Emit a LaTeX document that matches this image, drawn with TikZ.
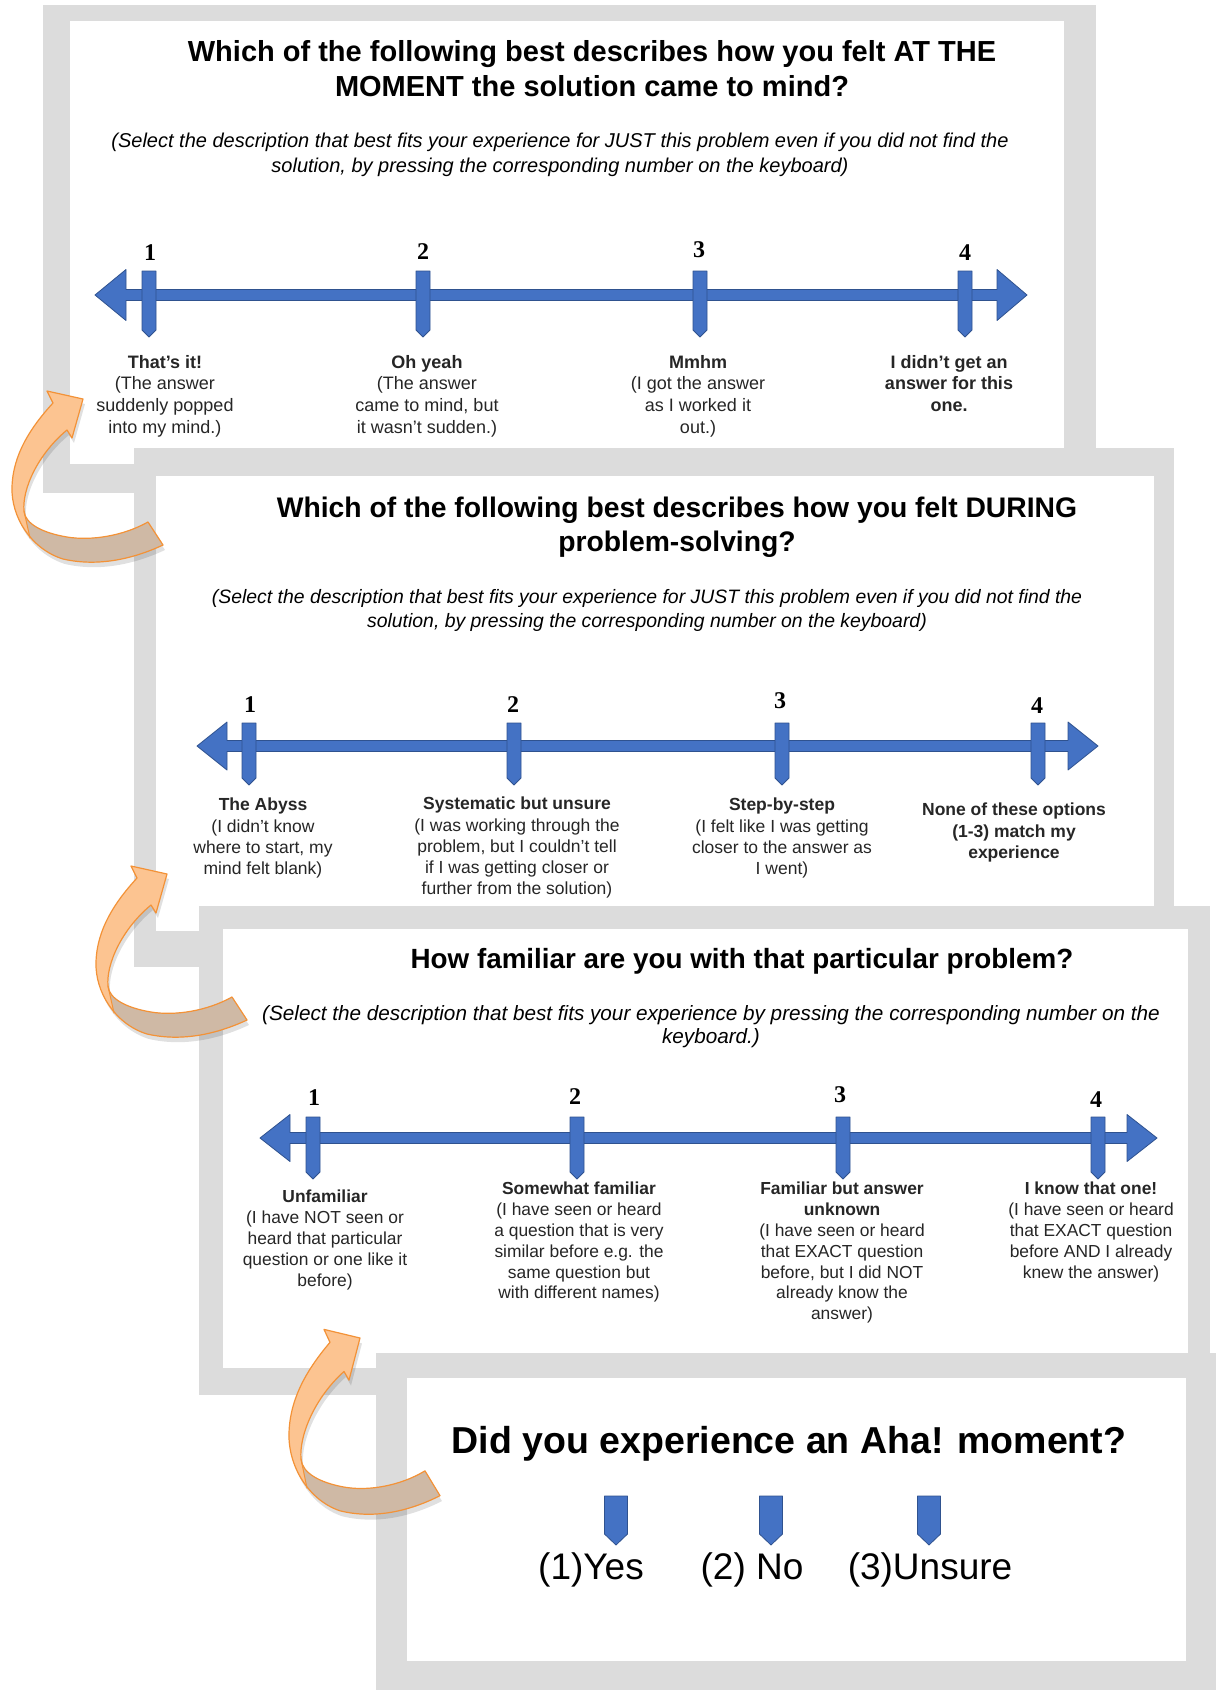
\documentclass[tikz,border=0pt]{standalone}
\usepackage{fontspec}
\setmainfont{Liberation Sans}
\newfontfamily\digitfont{Liberation Serif}
\usetikzlibrary{arrows.meta}

\definecolor{framegray}{HTML}{DCDCDC}
\definecolor{scaleblue}{HTML}{4472C4}
\definecolor{scaleedge}{HTML}{2F528F}
\definecolor{turnline}{HTML}{F39237}
\definecolor{turnfront}{HTML}{FCC491}
\definecolor{turnback}{HTML}{CFB9A5}

\newcommand\fsz[2]{\fontsize{#1}{#2}\selectfont}
% marker: x, half width, top, shoulder, tip
\newcommand\marker[5]{\draw[bar] (#1-#2,#3) -- (#1+#2,#3) -- (#1+#2,#4) -- (#1,#5) -- (#1-#2,#4) -- cycle;}
% scale bar: y, left tip, left back, right back, right tip, half head
\newcommand\scalebar[6]{\draw[bar] (#2,#1) -- (#3,#1-#6) -- (#3,#1-5.5) -- (#4,#1-5.5) -- (#4,#1-#6) -- (#5,#1) -- (#4,#1+#6) -- (#4,#1+5.5) -- (#3,#1+5.5) -- (#3,#1+#6) -- cycle;}
% curved arrow, tip at origin
\newcommand\turnpath{(0,0) -- (-36,-8) -- (-30,4) .. controls (-52,28) and (-70,55) .. (-71,88) .. controls (-72,118) and (-52,150) .. (-20,160) .. controls (15,168) and (50,160) .. (80,146) -- (65,123) .. controls (40,137) and (8,142) .. (-16,138) .. controls (-40,134) and (-58,125) .. (-59,112) .. controls (-61,90) and (-45,55) .. (-16,31) -- (-11,39) -- cycle}
\newcommand\turnarrow[2]{%
\begin{scope}[shift={(#1)},#2]
\begin{scope}[shift={(2,5)}]
\fill[black,opacity=0.12] \turnpath;
\end{scope}
\fill[turnfront] \turnpath;
\begin{scope}
\clip \turnpath;
\fill[turnback] (-59,112) -- (-53,139) -- (-53,200) -- (120,200) -- (120,100) -- (-40,100) -- cycle;
\end{scope}
\draw[turnline,line width=1.2pt,line join=round] \turnpath;
\draw[turnline,line width=1pt] (-59,112) -- (-53,139);
\end{scope}}

\begin{document}
\begin{tikzpicture}[x=1pt,y=-1pt,line cap=round,
  frame/.style={fill=framegray},
  sheet/.style={fill=white},
  bar/.style={fill=scaleblue,draw=scaleedge,line width=0.8pt,line join=round},
  qtitle/.style={align=center,anchor=north,inner sep=0pt},
  qnote/.style={align=center,anchor=north,inner sep=0pt},
  qlabel/.style={align=center,anchor=north,inner sep=0pt,text=black!85},
  qnum/.style={anchor=base,inner sep=0pt,font=\digitfont\fsz{24}{28}\bfseries},
  qopt/.style={anchor=base,inner sep=0pt,font=\fsz{37}{44}}]
\useasboundingbox (0,0) rectangle (1216,1690);
\fill[white] (0,0) rectangle (1216,1690);

% panel 1
\fill[frame] (43,5) rectangle (1096,493);
\fill[sheet] (70,21) rectangle (1064,464);
\node[qtitle,font=\fsz{29}{35}\bfseries] (t1) at (592,40) {Which of the following best describes how you felt AT THE\\MOMENT the solution came to mind?};
\node[qnote,font=\fsz{20}{25}\itshape] (s1) at (560,133) {(Select the description that best fits your experience for JUST this problem even if you did not find the\\solution, by pressing the corresponding number on the keyboard)};
\scalebar{295}{95}{126}{997}{1027}{25.5}
\marker{149}{7}{271}{330}{337}
\marker{423}{7}{271}{330}{337}
\marker{700}{7}{271}{330}{337}
\marker{965}{7}{271}{330}{337}
\node[qnum] (n11) at (150,260) {1};
\node[qnum] (n12) at (423,259) {2};
\node[qnum] (n13) at (699,257) {3};
\node[qnum] (n14) at (965,260) {4};
\node[qlabel,font=\fsz{18}{21.7}] (p1a) at (165,355) {{\bfseries That's it!}\\(The answer\\suddenly popped\\into my mind.)};
\node[qlabel,font=\fsz{18}{21.7}] (p1b) at (427,355) {{\bfseries Oh yeah}\\(The answer\\came to mind, but\\it wasn't sudden.)};
\node[qlabel,font=\fsz{18}{21.7}] (p1c) at (698,355) {{\bfseries Mmhm}\\(I got the answer\\as I worked it\\out.)};
\node[qlabel,font=\fsz{18}{21.7}\bfseries] (p1d) at (949,355) {I didn't get an\\answer for this\\one.};

% panel 2
\fill[frame] (134,448) rectangle (1174,967);
\fill[sheet] (156,476) rectangle (1154,931);
\node[qtitle,font=\fsz{28.3}{34}\bfseries] (t2) at (677,497) {Which of the following best describes how you felt DURING\\problem-solving?};
\node[qnote,font=\fsz{19.4}{24}\itshape] (s2) at (647,589) {(Select the description that best fits your experience for JUST this problem even if you did not find the\\solution, by pressing the corresponding number on the keyboard)};
\scalebar{746}{197}{227}{1068}{1098}{24}
\marker{249}{7}{723}{778}{785}
\marker{514}{7}{723}{778}{785}
\marker{782}{7}{723}{778}{785}
\marker{1038}{7}{723}{778}{785}
\node[qnum] (n21) at (250,712) {1};
\node[qnum] (n22) at (513,712) {2};
\node[qnum] (n23) at (780,708) {3};
\node[qnum] (n24) at (1037,713) {4};
\node[qlabel,font=\fsz{17.5}{21.2}] (p2a) at (263,798) {{\bfseries The Abyss}\\(I didn't know\\where to start, my\\mind felt blank)};
\node[qlabel,font=\fsz{17.5}{21.2}] (p2b) at (517,797) {{\bfseries Systematic but unsure}\\(I was working through the\\problem, but I couldn't tell\\if I was getting closer or\\further from the solution)};
\node[qlabel,font=\fsz{17.5}{21.2}] (p2c) at (782,798) {{\bfseries Step-by-step}\\(I felt like I was getting\\closer to the answer as\\I went)};
\node[qlabel,font=\fsz{17.5}{21.2}\bfseries] (p2d) at (1014,803) {None of these options\\(1-3) match my\\experience};

% panel 3
\fill[frame] (199,906) rectangle (1210,1395);
\fill[sheet] (223,929) rectangle (1188,1368);
\node[qtitle,font=\fsz{27.8}{34}\bfseries] (t3) at (742,948) {How familiar are you with that particular problem?};
\node[qnote,font=\fsz{20.7}{23}\itshape] (s3) at (711,1005) {(Select the description that best fits your experience by pressing the corresponding number on the\\keyboard.)};
\scalebar{1138}{260}{290}{1127}{1157}{23.5}
\marker{313}{7}{1117}{1172}{1179}
\marker{577}{7}{1117}{1172}{1179}
\marker{843}{7}{1117}{1172}{1179}
\marker{1098}{7}{1117}{1172}{1179}
\node[qnum] (n31) at (314,1105) {1};
\node[qnum] (n32) at (575,1104) {2};
\node[qnum] (n33) at (840,1102) {3};
\node[qnum] (n34) at (1096,1107) {4};
\node[qlabel,font=\fsz{17.4}{20.8}] (p3a) at (325,1190) {{\bfseries Unfamiliar}\\(I have NOT seen or\\heard that particular\\question or one like it\\before)};
\node[qlabel,font=\fsz{17.4}{20.8}] (p3b) at (579,1182) {{\bfseries Somewhat familiar}\\(I have seen or heard\\a question that is very\\similar before e.g. the\\same question but\\with different names)};
\node[qlabel,font=\fsz{17.4}{20.8}] (p3c) at (842,1182) {{\bfseries Familiar but answer}\\{\bfseries unknown}\\(I have seen or heard\\that EXACT question\\before, but I did NOT\\already know the\\answer)};
\node[qlabel,font=\fsz{17.4}{20.8}] (p3d) at (1091,1182) {{\bfseries I know that one!}\\(I have seen or heard\\that EXACT question\\before AND I already\\knew the answer)};

% panel 4
\fill[frame] (376,1353) rectangle (1216,1690);
\fill[sheet] (407,1378) rectangle (1186,1661);
\node[qtitle,font=\fsz{37.5}{44}\bfseries] (t4) at (789,1426) {Did you experience an Aha! moment?};
\marker{616}{11.5}{1496}{1534}{1545}
\marker{771}{11.5}{1496}{1534}{1545}
\marker{929}{11.5}{1496}{1534}{1545}
\node[qopt] (yes) at (591,1579) {(1)Yes};
\node[qopt] (no) at (752,1579) {(2) No};
\node[qopt] (unsure) at (930,1579) {(3)Unsure};

% curved arrows
\turnarrow{83,399}{}
\turnarrow{167,874}{}
\turnarrow{360,1338}{yscale=1.08}
\end{tikzpicture}
\end{document}
